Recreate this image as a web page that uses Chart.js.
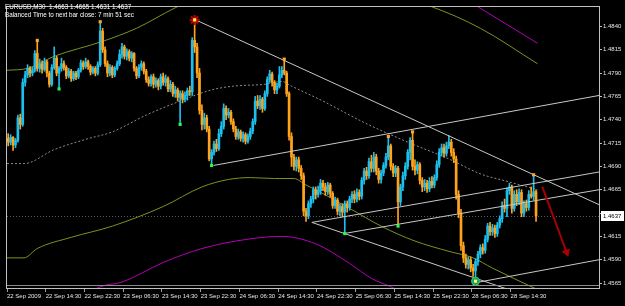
<!DOCTYPE html>
<html>
<head>
<meta charset="utf-8">
<script src="https://cdn.jsdelivr.net/npm/chart.js@4.4.0/dist/chart.umd.min.js"></script>
<style>
body { margin: 0; background: #000; }
#wrap { position: relative; width: 625px; height: 306px; }
.info { position: absolute; left: 5px; color: #fff; font: 6.3px 'Liberation Sans', sans-serif; white-space: pre; }
</style>
</head>
<body>
<div id="wrap">
<canvas id="chart" width="625" height="306"></canvas>
<div class="info" style="top:3px">EURUSD,M30  1.4663 1.4665 1.4631 1.4637</div>
<div class="info" style="top:11px">Balanced Time to next bar close: 7 min 51 sec</div>
</div>
<script>
// prices are stored as pips above 1.4000 (1.4663 -> 663), one entry per M30 bar
const opens = [
    720,716,721,713,718,742,735,780,788,795, 790,793,811,795,800,794,802,790,778,796,
    806,790,795,800,796,787,792,784,790,786, 793,801,797,802,797,791,795,790,799,835,
    815,800,790,796,788,795,800,810,818,808, 813,806,811,795,787,796,800,792,783,779,
    786,778,782,776,786,780,784,773,778,768, 772,764,768,762,766,771,770,825,818,790,
    750,735,742,730,698,705,714,709,725,733, 752,745,748,738,730,722,727,720,724,717,
    722,728,738,760,755,762,752,768,783,789, 780,772,776,788,793,790,768,722,700,690,
    697,688,680,642,637,650,655,665,660,664, 672,668,663,670,661,648,654,642,647,641,
    650,646,655,660,655,662,658,675,685,680, 695,688,700,685,676,683,691,700,712,690,
    683,688,652,668,680,690,705,718,690,686, 692,675,668,672,666,674,670,678,692,705,
    710,704,712,716,705,698,660,640,605,592, 585,590,581,578,588,596,603,600,612,626,
    620,624,618,627,634,648,645,664,668,645, 660,652,662,640,650,646,660,658,663
];
const highs = [
    725,724,722,720,745,746,784,792,799,797, 796,814,825,805,803,806,804,792,799,818,
    808,797,806,803,798,795,794,792,792,795, 804,803,806,804,799,797,797,802,845,838,
    818,803,799,798,797,803,815,822,820,816, 815,813,812,797,799,803,802,794,786,788,
    789,785,784,789,790,788,786,782,780,776, 774,771,771,770,774,776,828,847,822,795,
    756,747,745,733,708,717,719,730,738,757, 755,752,750,741,733,730,729,727,726,725,
    731,741,765,766,766,764,771,786,793,791, 782,779,797,797,805,792,770,726,703,700,
    700,691,683,645,653,658,668,668,669,676, 675,672,673,672,663,657,656,650,650,653,
    653,658,663,664,666,665,678,688,689,699, 702,705,703,688,686,694,704,722,714,693,
    691,690,671,684,694,708,721,727,697,695, 694,678,676,675,678,679,681,696,709,714,
    714,716,723,719,709,701,664,644,609,596, 593,593,585,591,599,606,607,616,629,630,
    628,627,630,637,652,655,667,672,670,664, 665,666,665,653,654,664,668,681,665
];
const lows = [
    712,713,707,710,716,730,733,776,785,786, 787,791,792,791,790,792,786,775,776,794,
    787,773,792,793,784,785,781,782,783,784, 791,794,795,794,788,789,787,788,797,812,
    797,786,787,785,786,793,798,806,805,804, 803,802,792,784,785,793,789,780,776,776,
    774,775,772,773,777,776,770,770,765,764, 760,735,758,759,761,766,766,812,785,746,
    729,730,727,696,691,702,706,707,722,730, 740,742,735,727,719,719,717,716,714,715,
    719,725,735,752,751,748,750,765,780,776, 768,768,774,785,788,765,718,690,686,685,
    684,676,637,631,634,646,651,655,657,660, 664,659,660,657,645,645,638,637,636,618,
    641,643,651,651,652,654,655,671,676,677, 684,684,681,672,672,680,688,697,686,679,
    679,626,648,664,676,687,697,686,681,682, 671,663,664,662,663,667,667,675,689,701,
    700,701,709,701,694,655,635,600,587,581, 580,577,572,567,584,592,596,597,609,616,
    616,614,615,624,630,641,636,660,640,642, 648,649,636,636,642,643,656,654,631
];
const closes = [
    716,721,713,718,742,735,780,788,795,790, 793,811,795,800,794,802,790,778,796,806,
    790,795,800,796,787,792,784,790,786,793, 801,797,802,797,791,795,790,799,835,815,
    800,790,796,788,795,800,810,818,808,813, 806,811,795,787,796,800,792,783,779,786,
    778,782,776,786,780,784,773,778,768,772, 764,768,762,766,771,770,825,818,790,750,
    735,742,730,698,705,714,709,725,733,752, 745,748,738,730,722,727,720,724,717,722,
    728,738,760,755,762,752,768,783,789,780, 772,776,788,793,790,768,722,700,690,697,
    688,680,642,637,650,655,665,660,664,672, 668,663,670,661,648,654,642,647,641,650,
    646,655,660,655,662,658,675,685,680,695, 688,700,685,676,683,691,700,712,690,683,
    688,652,668,680,690,705,718,690,686,692, 675,668,672,666,674,670,678,692,705,710,
    704,712,716,705,698,660,640,605,592,585, 590,581,578,588,596,603,600,612,626,620,
    624,618,627,634,648,645,664,668,645,660, 652,662,640,650,646,660,658,663,637
];

const timeLabels = ['22 Sep 2009', '22 Sep 14:30', '22 Sep 22:30', '23 Sep 06:30', '23 Sep 14:30',
    '23 Sep 22:30', '24 Sep 06:30', '24 Sep 14:30', '24 Sep 22:30', '25 Sep 06:30',
    '25 Sep 14:30', '25 Sep 22:30', '28 Sep 06:30', '28 Sep 14:30'];
const priceTicks = [565, 590, 615, 640, 665, 690, 715, 740, 765, 790, 815, 840];

// indicator lines, read as [bar, pips]
const maLine = [[-0.5,693],[6.5,693],[19,708],[32,719],[43,727],[57,745],[73,762],[84,772],[93,776],
    [106,778],[113,781],[117,776],[130,760],[147,737],[165,716],[182,698],[195,682],[206,674],[218.6,665]];
const upperOlive = [[-0.5,793],[8,795],[19,808],[39,824],[53,838],[69,860],[85,878],[110,885],
    [140,880],[160,872],[175,861],[195,838],[218.6,800]];
const lowerOlive = [[-0.5,592],[6.5,592],[12,602],[26,614],[43,626],[64,647],[80,668],[91,676],
    [100,678],[110,677],[118,677],[123,670],[127,665],[141,645],[154,626],[168,610],[182,599],
    [192,592],[200,581],[218.6,558]];
const upperMagenta = [[170,895],[185,875],[194,861],[206,842],[218.6,822]];
const lowerMagenta = [[25,540],[38,561],[47,566],[64,587],[80,602],[99,612],[113,615],[127,607],
    [141,586],[150,570],[158,561],[170,545]];

// trend lines drawn on the chart, [bar, pips] end points
const trendLines = [
    [[77.4,847],[244,649]],
    [[125.4,630],[244,525]],
    [[84.8,691],[244,766]],
    [[125.4,630],[244,684]],
    [[138.6,618],[244,665]],
    [[192.3,565],[244,590]]
];
const arrowPath = [[220.6,668],[230.6,598]];

const highMarkBars = [12, 38, 114, 157, 167, 217];
const lowMarkBars = [21, 71, 84, 139, 161];
const peakBar = 77;
const troughBar = 193;

const BULL = '#1cc0ee';
const BEAR = '#ffa21c';

function toPoints(list) {
    return list.map(p => ({ x: p[0], y: p[1] }));
}

const candleColors = closes.map((c, i) => c >= opens[i] ? BULL : BEAR);

const datasets = [];

datasets.push({
    type: 'line',
    label: 'peak halo',
    data: [{ x: peakBar, y: highs[peakBar] }],
    showLine: false,
    pointStyle: 'star',
    pointRadius: 5,
    borderColor: '#c00000',
    borderWidth: 2,
    backgroundColor: '#c00000',
    order: 1
});
datasets.push({
    type: 'line',
    label: 'trough halo',
    data: [{ x: troughBar, y: lows[troughBar] }],
    showLine: false,
    pointStyle: 'circle',
    pointRadius: 4,
    borderColor: '#2ecc71',
    borderWidth: 1,
    backgroundColor: '#1a9a70',
    order: 1
});
datasets.push({
    type: 'line',
    label: 'extremes',
    data: [{ x: peakBar, y: highs[peakBar] }, { x: troughBar, y: lows[troughBar] }],
    showLine: false,
    pointStyle: 'rect',
    pointRadius: 2.2,
    borderWidth: 0,
    backgroundColor: '#ffff40',
    order: 0
});
datasets.push({
    type: 'line',
    label: 'highs',
    data: highMarkBars.map(i => ({ x: i, y: highs[i] })),
    showLine: false,
    pointStyle: 'rect',
    pointRadius: 2.2,
    borderWidth: 0,
    backgroundColor: '#ffa830',
    order: 0
});
datasets.push({
    type: 'line',
    label: 'lows',
    data: lowMarkBars.map(i => ({ x: i, y: lows[i] })),
    showLine: false,
    pointStyle: 'rect',
    pointRadius: 2.2,
    borderWidth: 0,
    backgroundColor: '#20ff40',
    order: 0
});

// arrow shaft + head
datasets.push({
    type: 'line',
    label: 'arrow',
    data: toPoints(arrowPath),
    borderColor: '#a80000',
    borderWidth: 2,
    pointRadius: [0, 5],
    pointStyle: 'triangle',
    pointRotation: 160,
    pointBackgroundColor: '#a80000',
    pointBorderWidth: 0,
    order: 1
});

trendLines.forEach((t, k) => {
    datasets.push({
        type: 'line',
        label: 'trend' + k,
        data: toPoints(t),
        borderColor: '#c8c8c8',
        borderWidth: 1,
        pointRadius: 0,
        order: 2
    });
});

// candles: wick first, then body
datasets.push({
    type: 'bar',
    label: 'bodies',
    data: opens.map((o, i) => ({ x: i, y: [o, closes[i]] })),
    backgroundColor: candleColors,
    barThickness: 2,
    minBarLength: 1,
    grouped: false,
    order: 3
});
datasets.push({
    type: 'bar',
    label: 'wicks',
    data: lows.map((l, i) => ({ x: i, y: [l, highs[i]] })),
    backgroundColor: candleColors,
    barThickness: 1,
    grouped: false,
    order: 4
});

const bandStyle = { type: 'line', borderWidth: 1, pointRadius: 0, cubicInterpolationMode: 'monotone', order: 5 };
datasets.push(Object.assign({ label: 'ma', data: toPoints(maLine), borderColor: '#8c8c8c', borderDash: [2, 2] }, bandStyle));
datasets.push(Object.assign({ label: 'upper olive', data: toPoints(upperOlive), borderColor: '#78961e' }, bandStyle));
datasets.push(Object.assign({ label: 'lower olive', data: toPoints(lowerOlive), borderColor: '#78961e' }, bandStyle));
datasets.push(Object.assign({ label: 'upper magenta', data: toPoints(upperMagenta), borderColor: '#b400b4' }, bandStyle));
datasets.push(Object.assign({ label: 'lower magenta', data: toPoints(lowerMagenta), borderColor: '#b400b4' }, bandStyle));

const lastPrice = closes[closes.length - 1];

const terminalPlugin = {
    id: 'terminal',
    beforeDatasetsDraw(chart) {
        const { ctx, chartArea: a, scales } = chart;
        const y = Math.round(scales.y.getPixelForValue(lastPrice)) + 0.5;
        ctx.save();
        ctx.strokeStyle = '#5a5a5a';
        ctx.setLineDash([1, 2]);
        ctx.beginPath();
        ctx.moveTo(a.left, y);
        ctx.lineTo(a.right, y);
        ctx.stroke();
        ctx.restore();
    },
    afterDraw(chart) {
        const { ctx, chartArea: a, scales } = chart;
        ctx.save();
        ctx.strokeStyle = '#c0c0c0';
        ctx.lineWidth = 1;
        ctx.strokeRect(a.left - 0.5, a.top - 0.5, a.right - a.left + 1, a.bottom - a.top + 1);
        // second bottom rule, like the terminal's split bar
        ctx.strokeStyle = '#8a8a8a';
        ctx.beginPath();
        ctx.moveTo(a.left, a.bottom - 2.5);
        ctx.lineTo(a.right, a.bottom - 2.5);
        ctx.stroke();
        const y = Math.round(scales.y.getPixelForValue(lastPrice));
        ctx.fillStyle = '#fff';
        ctx.fillRect(a.right + 2, y - 5, 23, 10);
        ctx.fillStyle = '#000';
        ctx.font = '6px "Liberation Sans"';
        ctx.textBaseline = 'middle';
        ctx.fillText((1.4 + lastPrice / 10000).toFixed(4), a.right + 4, y);
        ctx.restore();
    }
};

new Chart(document.getElementById('chart'), {
    type: 'bar',
    data: { datasets: datasets },
    options: {
        responsive: false,
        animation: false,
        layout: { padding: { left: 3, top: 3, right: 0, bottom: 0 } },
        plugins: { legend: { display: false }, tooltip: { enabled: false } },
        scales: {
            x: {
                type: 'linear',
                position: 'bottom',
                offset: false,
                min: -0.5,
                max: 244,
                afterBuildTicks: s => { s.ticks = timeLabels.map((_, k) => ({ value: k * 16 - 0.5 })); },
                afterFit: s => { s.height = 18; s.paddingLeft = 0; s.paddingRight = 0; },
                grid: { offset: false, drawOnChartArea: false, drawTicks: true, tickLength: 4, color: '#a0a0a0' },
                border: { color: '#c0c0c0' },
                ticks: {
                    align: 'start',
                    autoSkip: false,
                    maxRotation: 0,
                    minRotation: 0,
                    padding: 1,
                    color: '#e6e6e6',
                    font: { family: 'Liberation Sans', size: 6 },
                    callback: (v, i) => timeLabels[i]
                }
            },
            y: {
                position: 'right',
                min: 559.7,
                max: 860.8,
                afterBuildTicks: s => { s.ticks = priceTicks.map(v => ({ value: v })); },
                afterFit: s => { s.width = 26; },
                grid: { drawOnChartArea: false, drawTicks: true, tickLength: 3, color: '#c0c0c0' },
                border: { color: '#c0c0c0' },
                ticks: {
                    padding: 1,
                    color: '#e6e6e6',
                    font: { family: 'Liberation Sans', size: 6 },
                    callback: v => (1.4 + v / 10000).toFixed(4)
                }
            }
        }
    },
    plugins: [terminalPlugin]
});
</script>
</body>
</html>
